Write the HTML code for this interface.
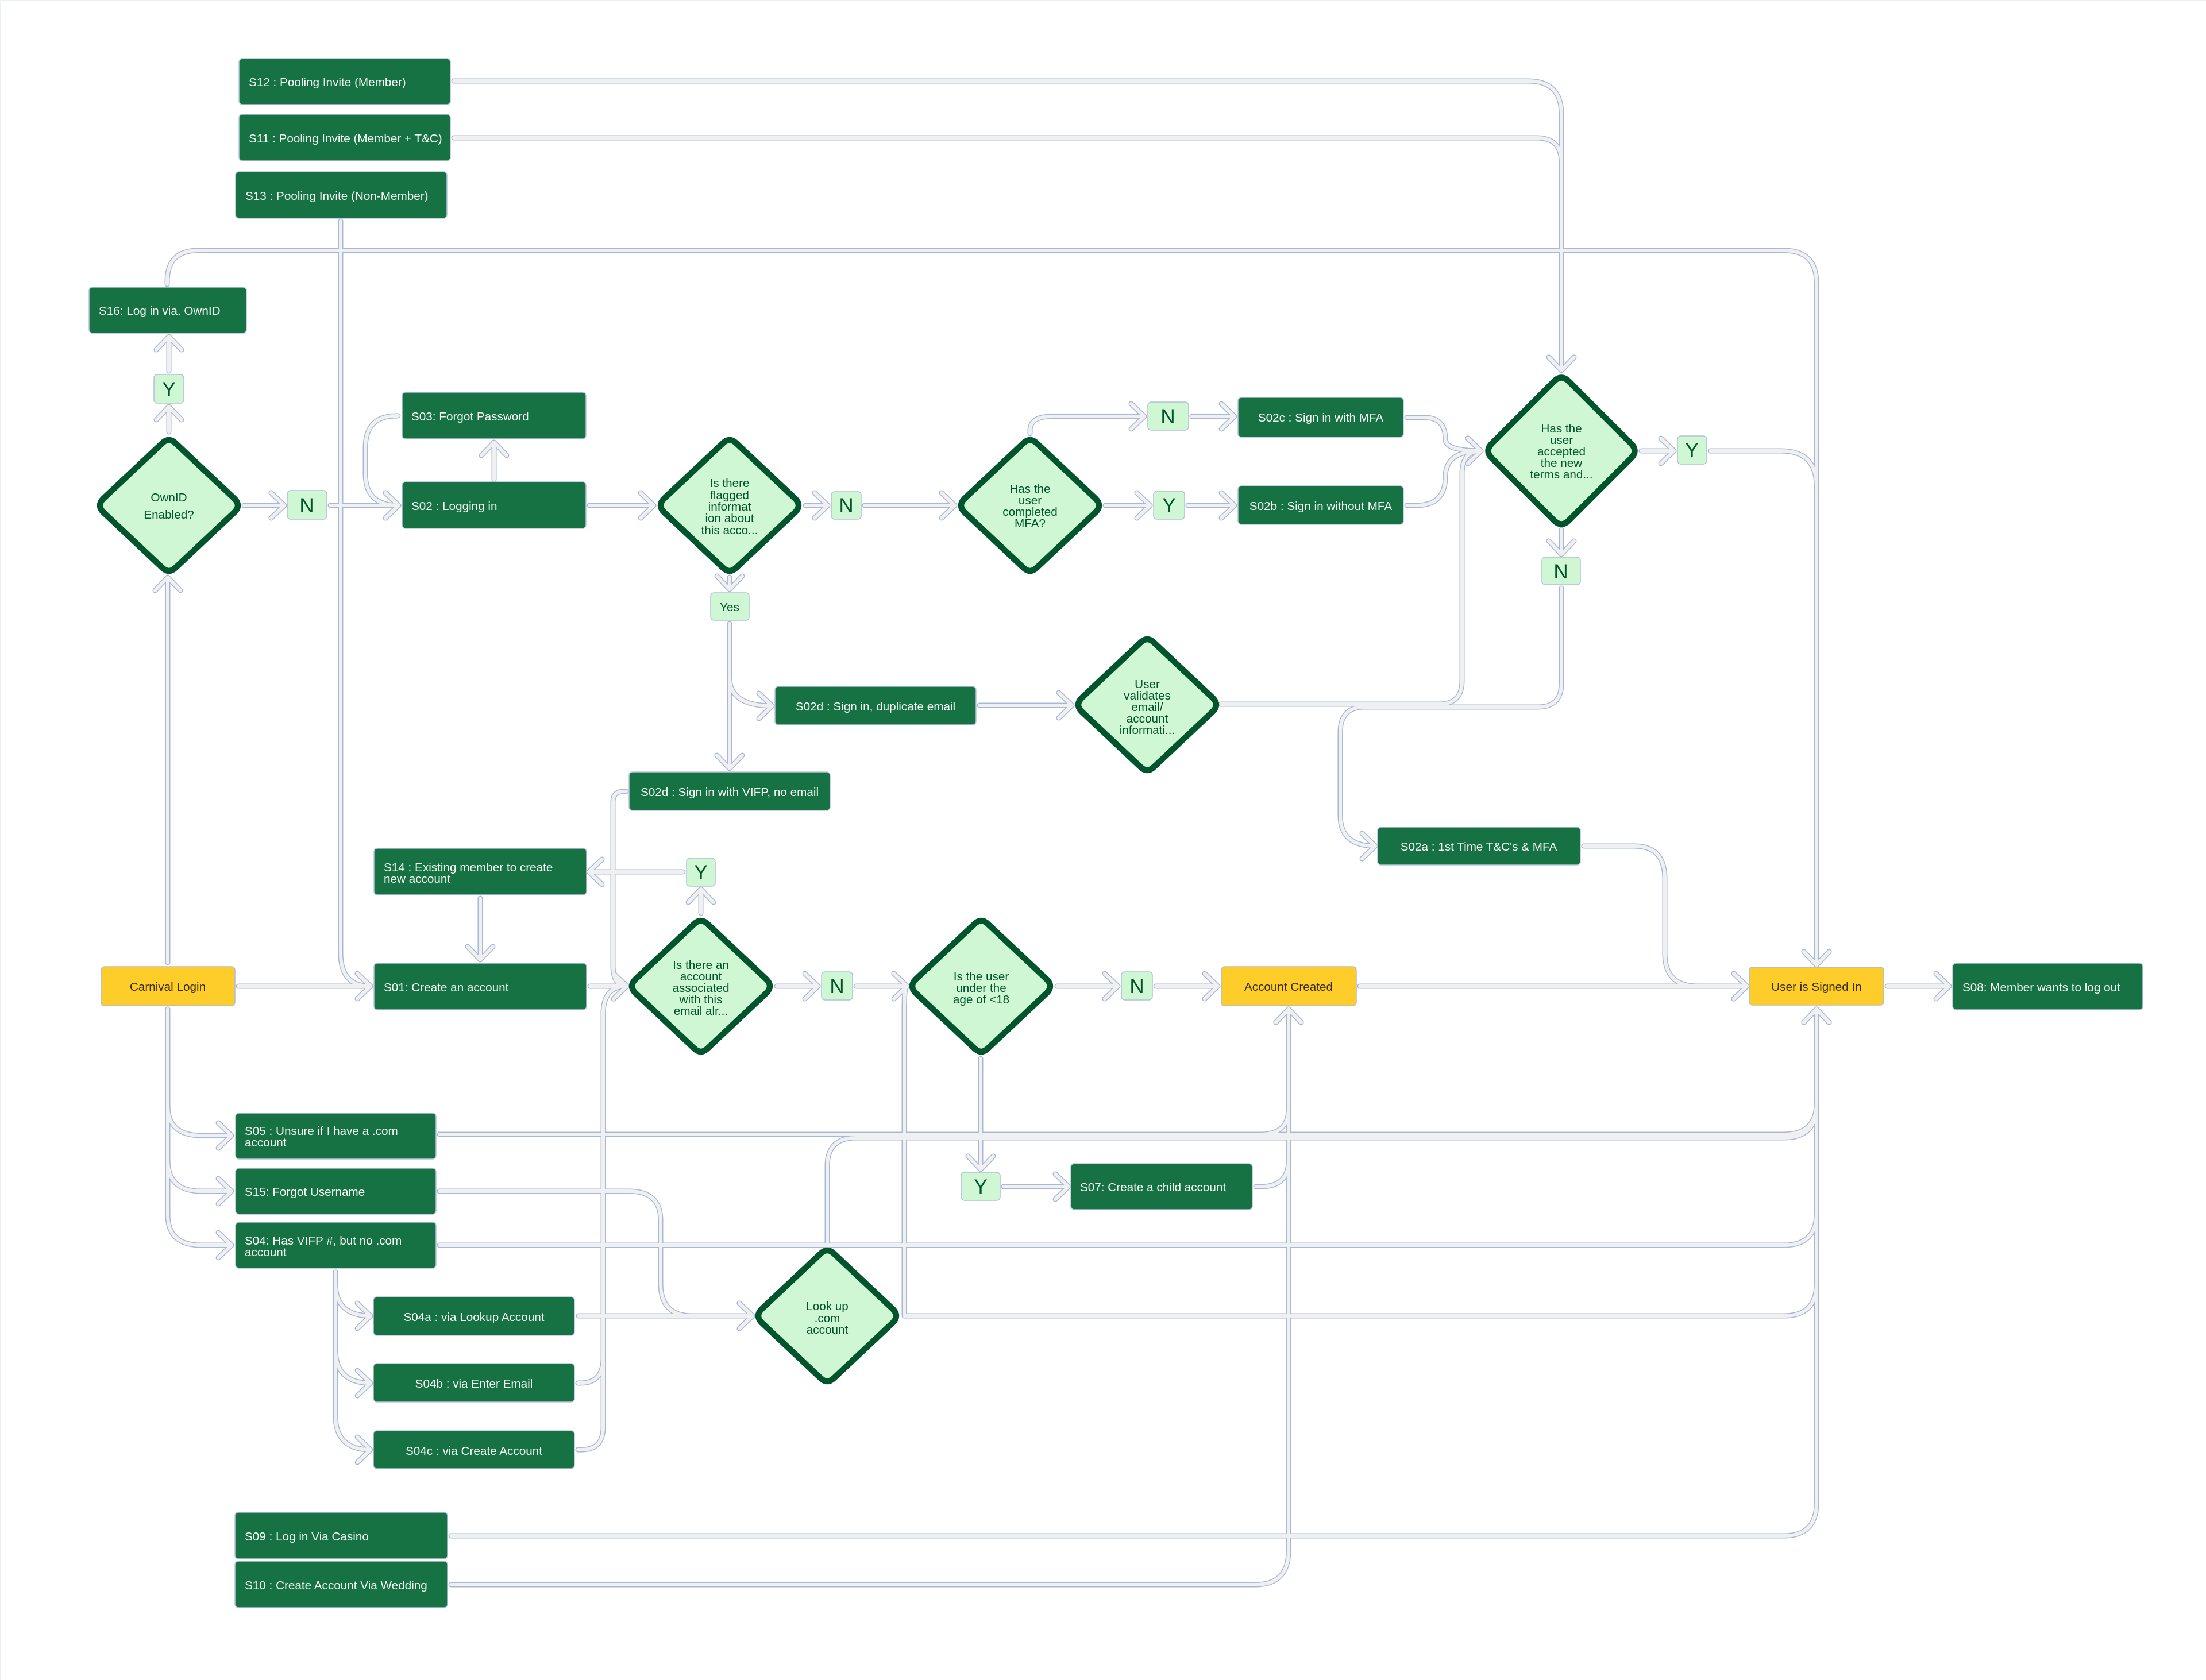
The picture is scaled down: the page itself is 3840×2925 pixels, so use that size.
<!DOCTYPE html>
<html lang="en">
<head>
<meta charset="utf-8">
<title>Login flow diagram</title>
<style>
html,body{margin:0;padding:0;background:#fff;}
svg{display:block;}
text{font-family:"Liberation Sans",sans-serif;font-size:20.7px;}
.w{fill:#f4fbf6;}
.c{text-anchor:middle;}
.g{fill:#02542D;text-anchor:middle;}
.y{fill:#3a2d05;text-anchor:middle;}
.l{fill:#02542D;text-anchor:middle;font-size:35px;}
.b rect{fill:#167242;stroke:#b8c5de;stroke-width:1.5;}
.ye rect{fill:#FFCD29;stroke:#aebcd8;stroke-width:1.5;}
.la rect{fill:#CFF7D3;stroke:#b3c0da;stroke-width:1.5;}
.d use{fill:#CFF7D3;stroke:#02542D;stroke-width:10.5;}
#cons{fill:none;stroke-linecap:round;stroke-linejoin:round;}
</style>
</head>
<body>
<svg xmlns="http://www.w3.org/2000/svg" width="3840" height="2925" viewBox="0 0 3840 2925">
<defs>
<marker id="mo" markerUnits="userSpaceOnUse" markerWidth="70" markerHeight="70" refX="50" refY="35" orient="auto" overflow="visible">
<path d="M27 13 L50 35 L27 57" fill="none" stroke="#a9b8d6" stroke-width="9" stroke-linecap="round" stroke-linejoin="round"/>
</marker>
<marker id="mi" markerUnits="userSpaceOnUse" markerWidth="70" markerHeight="70" refX="50" refY="35" orient="auto" overflow="visible">
<path d="M27 13 L50 35 L27 57" fill="none" stroke="#f0f0f0" stroke-width="6" stroke-linecap="round" stroke-linejoin="round"/>
</marker>
<path id="dm" d="M-114 -12 L-12 -108 Q0 -120 12 -108 L114 -12 Q126 0 114 12 L12 108 Q0 120 -12 108 L-114 12 Q-126 0 -114 -12 Z"/>
<path id="dl" d="M-121 -13 L-13 -121 Q0 -134 13 -121 L121 -13 Q134 0 121 13 L13 121 Q0 134 -13 121 L-121 13 Q-134 0 -121 -13 Z"/>
<g id="ar">
<path d="M790 141 H2660 Q2718 141 2718 199 V645"/>
<path d="M790 240 H2675 Q2718 240 2718 283 V645"/>
<path d="M593 385 V1660 Q593 1717 645 1717"/>
<path d="M291 495 V490 Q291 436 345 436 H3105 Q3162 436 3162 493 V1680"/>
<path d="M294 752 V708"/>
<path d="M294 646 V586"/>
<path d="M425 880 H495"/>
<path d="M575 880 H694"/>
<path d="M860 835 V770"/>
<path d="M693 724 H690 Q636 724 636 780 V825 Q636 880 694 880"/>
<path d="M1026 880 H1138"/>
<path d="M1402 880 H1441"/>
<path d="M1505 880 H1662"/>
<path d="M1270 1005 V1026"/>
<path d="M1270 1086 V1338"/>
<path d="M1270 1086 V1180 Q1270 1229 1344 1229"/>
<path d="M1705 1228 H1866"/>
<path d="M1793 755 V750 Q1793 725 1830 725 H1992"/>
<path d="M2075 725 H2149"/>
<path d="M1924 880 H2002"/>
<path d="M2068 880 H2149"/>
<path d="M2449 727 H2480 Q2516 727 2516 765 Q2516 785 2578 785"/>
<path d="M2449 880 H2465 Q2516 880 2516 830 Q2516 785 2578 785"/>
<path d="M2125 1226 H2505 Q2545 1226 2545 1185 V825 Q2545 785 2578 785"/>
<path d="M2857 785 H2914"/>
<path d="M2977 785 H3100 Q3162 785 3162 847 V1680"/>
<path d="M2718 922 V965"/>
<path d="M2718 1024 V1190 Q2718 1231 2677 1231 H2375 Q2333 1231 2333 1275 V1420 Q2333 1473 2394 1473"/>
<path d="M2757 1473 H2845 Q2898 1473 2898 1530 V1660 Q2898 1717 2955 1717 H3041"/>
<path d="M1090 1378 H1085 Q1067 1378 1067 1396 V1680 Q1067 1717 1091 1717"/>
<path d="M1220 1590 V1548"/>
<path d="M1189 1518 H1025"/>
<path d="M836 1564 V1671"/>
<path d="M1027 1717 H1091"/>
<path d="M415 1717 H645"/>
<path d="M292 1676 V1005"/>
<path d="M292 1757 V1925 Q292 1977 350 1977 H403"/>
<path d="M292 1757 V2020 Q292 2074 350 2074 H403"/>
<path d="M292 1757 V2115 Q292 2168 350 2168 H403"/>
<path d="M1352 1717 H1424"/>
<path d="M1490 1717 H1579"/>
<path d="M1840 1717 H1946"/>
<path d="M2012 1717 H2120"/>
<path d="M1707 1843 V2036"/>
<path d="M1747 2066 H1860"/>
<path d="M2186 2066 H2195 Q2243 2066 2243 2020 V1757"/>
<path d="M2367 1717 H3041"/>
<path d="M3285 1717 H3393"/>
<path d="M765 1975 H2195 Q2243 1975 2243 1930 V1757"/>
<path d="M765 1975 H3105 Q3162 1975 3162 1920 V1757"/>
<path d="M765 2074 H1095 Q1150 2074 1150 2125 V2235 Q1150 2291 1205 2291 H1310"/>
<path d="M765 2168 H3105 Q3162 2168 3162 2112 V1757"/>
<path d="M584 2215 V2235 Q584 2291 645 2291"/>
<path d="M584 2215 V2350 Q584 2408 645 2408"/>
<path d="M584 2215 V2465 Q584 2524 645 2524"/>
<path d="M1007 2291 H1310"/>
<path d="M1006 2408 H1010 Q1050 2408 1050 2365 V1765 Q1050 1717 1091 1717"/>
<path d="M1006 2524 H1012 Q1050 2524 1050 2485 V1765 Q1050 1717 1091 1717"/>
<path d="M1574 2291 V1760 Q1574 1717 1579 1717"/>
<path d="M1574 2291 H3105 Q3162 2291 3162 2235 V1757"/>
<path d="M1440 2165 V2030 Q1440 1981 1490 1981 H3105 Q3162 1981 3162 1925 V1757"/>
<path d="M785 2674 H3105 Q3162 2674 3162 2617 V1757"/>
<path d="M785 2759 H2185 Q2243 2759 2243 2700 V1757"/>
</g>
</defs>
<rect x="0" y="0" width="3840" height="2925" fill="#fff"/>
<path d="M1 2925 V1 H3840" fill="none" stroke="#e4eaf4" stroke-width="1.5"/>
<g id="cons">
<use href="#ar" stroke="#a9b8d6" stroke-width="9" marker-end="url(#mo)"/>
<use href="#ar" stroke="#f0f0f0" stroke-width="6" marker-end="url(#mi)"/>
</g>
<g class="d">
<use href="#dm" transform="translate(294 880)"/>
<use href="#dm" transform="translate(1270 880)"/>
<use href="#dm" transform="translate(1793 880)"/>
<use href="#dm" transform="translate(1997 1227)"/>
<use href="#dm" transform="translate(1220 1717)"/>
<use href="#dm" transform="translate(1708 1717)"/>
<use href="#dm" transform="translate(1440 2291)"/>
<use href="#dl" transform="translate(2718 785)"/>
</g>
<g class="b">
<rect x="416" y="102" width="368" height="80" rx="6"/>
<rect x="416" y="199" width="368" height="81" rx="6"/>
<rect x="410" y="299" width="368" height="81" rx="6"/>
<rect x="155" y="500" width="274" height="80" rx="6"/>
<rect x="700" y="683" width="320" height="81" rx="6"/>
<rect x="700" y="839" width="320" height="81" rx="6"/>
<rect x="2155" y="692" width="288" height="69" rx="6"/>
<rect x="2155" y="846" width="288" height="67" rx="6"/>
<rect x="1349" y="1195" width="350" height="67" rx="6"/>
<rect x="1095" y="1344" width="350" height="67" rx="6"/>
<rect x="651" y="1477" width="370" height="81" rx="6"/>
<rect x="651" y="1677" width="370" height="81" rx="6"/>
<rect x="2398" y="1440" width="353" height="66" rx="6"/>
<rect x="3399" y="1677" width="331" height="81" rx="6"/>
<rect x="410" y="1938" width="349" height="80" rx="6"/>
<rect x="410" y="2034" width="349" height="80" rx="6"/>
<rect x="410" y="2128" width="349" height="80" rx="6"/>
<rect x="1864" y="2026" width="316" height="80" rx="6"/>
<rect x="650" y="2258" width="350" height="67" rx="6"/>
<rect x="650" y="2374" width="350" height="67" rx="6"/>
<rect x="650" y="2491" width="350" height="66" rx="6"/>
<rect x="409" y="2633" width="370" height="81" rx="6"/>
<rect x="409" y="2718" width="370" height="81" rx="6"/>
</g>
<g class="ye">
<rect x="176" y="1683" width="233" height="68" rx="6"/>
<rect x="2126" y="1683" width="235" height="68" rx="6"/>
<rect x="3045" y="1684" width="234" height="66" rx="6"/>
</g>
<g class="la">
<rect x="268" y="652" width="52" height="50" rx="6"/>
<rect x="500" y="854" width="69" height="50" rx="6"/>
<rect x="1447" y="856" width="52" height="48" rx="6"/>
<rect x="1998" y="700" width="71" height="49" rx="6"/>
<rect x="2008" y="855" width="54" height="49" rx="6"/>
<rect x="1237" y="1032" width="67" height="48" rx="6"/>
<rect x="2920" y="759" width="51" height="49" rx="6"/>
<rect x="2684" y="970" width="67" height="48" rx="6"/>
<rect x="1195" y="1494" width="50" height="49" rx="6"/>
<rect x="1430" y="1692" width="54" height="49" rx="6"/>
<rect x="1952" y="1692" width="54" height="49" rx="6"/>
<rect x="1673" y="2041" width="68" height="49" rx="6"/>
</g>
<g class="w">
<text x="433" y="150">S12 : Pooling Invite (Member)</text>
<text x="433" y="248">S11 : Pooling Invite (Member + T&amp;C)</text>
<text x="427" y="348">S13 : Pooling Invite (Non-Member)</text>
<text x="172" y="548">S16: Log in via. OwnID</text>
<text x="716" y="732">S03: Forgot Password</text>
<text x="716" y="888">S02 : Logging in</text>
<text class="c" x="2299" y="734">S02c : Sign in with MFA</text>
<text class="c" x="2299" y="888">S02b : Sign in without MFA</text>
<text class="c" x="1524" y="1237">S02d : Sign in, duplicate email</text>
<text class="c" x="1270" y="1386">S02d : Sign in with VIFP, no email</text>
<text x="668" y="1517">S14 : Existing member to create</text>
<text x="668" y="1537">new account</text>
<text x="668" y="1726">S01: Create an account</text>
<text class="c" x="2574" y="1481">S02a : 1st Time T&amp;C's &amp; MFA</text>
<text x="3416" y="1726">S08: Member wants to log out</text>
<text x="426" y="1976">S05 : Unsure if I have a .com</text>
<text x="426" y="1996">account</text>
<text x="426" y="2082">S15: Forgot Username</text>
<text x="426" y="2167">S04: Has VIFP #, but no .com</text>
<text x="426" y="2187">account</text>
<text x="1880" y="2074">S07: Create a child account</text>
<text class="c" x="825" y="2300">S04a : via Lookup Account</text>
<text class="c" x="825" y="2416">S04b : via Enter Email</text>
<text class="c" x="825" y="2533">S04c : via Create Account</text>
<text x="426" y="2682">S09 : Log in Via Casino</text>
<text x="426" y="2767">S10 : Create Account Via Wedding</text>
</g>
<g>
<text class="y" x="292" y="1725">Carnival Login</text>
<text class="y" x="2243" y="1725">Account Created</text>
<text class="y" x="3162" y="1725">User is Signed In</text>
</g>
<g>
<text class="l" x="294" y="690">Y</text>
<text class="l" x="534" y="892">N</text>
<text class="l" x="1473" y="892">N</text>
<text class="l" x="2033" y="737">N</text>
<text class="l" x="2035" y="892">Y</text>
<text class="l" x="2945" y="796">Y</text>
<text class="l" x="2717" y="1007">N</text>
<text class="l" x="1220" y="1531">Y</text>
<text class="l" x="1457" y="1729">N</text>
<text class="l" x="1979" y="1729">N</text>
<text class="l" x="1707" y="2078">Y</text>
<text class="g" x="1270" y="1064">Yes</text>
</g>
<g>
<text class="g" x="294" y="873">OwnID</text>
<text class="g" x="294" y="903">Enabled?</text>
<text class="g" x="1270" y="848">Is there</text>
<text class="g" x="1270" y="869">flagged</text>
<text class="g" x="1270" y="889">informat</text>
<text class="g" x="1270" y="909">ion about</text>
<text class="g" x="1270" y="930">this acco...</text>
<text class="g" x="1793" y="858">Has the</text>
<text class="g" x="1793" y="878">user</text>
<text class="g" x="1793" y="898">completed</text>
<text class="g" x="1793" y="918">MFA?</text>
<text class="g" x="1997" y="1198">User</text>
<text class="g" x="1997" y="1218">validates</text>
<text class="g" x="1997" y="1238">email/</text>
<text class="g" x="1997" y="1258">account</text>
<text class="g" x="1997" y="1278">informati...</text>
<text class="g" x="2718" y="753">Has the</text>
<text class="g" x="2718" y="773">user</text>
<text class="g" x="2718" y="793">accepted</text>
<text class="g" x="2718" y="813">the new</text>
<text class="g" x="2718" y="833">terms and...</text>
<text class="g" x="1220" y="1687">Is there an</text>
<text class="g" x="1220" y="1707">account</text>
<text class="g" x="1220" y="1727">associated</text>
<text class="g" x="1220" y="1747">with this</text>
<text class="g" x="1220" y="1767">email alr...</text>
<text class="g" x="1708" y="1707">Is the user</text>
<text class="g" x="1708" y="1727">under the</text>
<text class="g" x="1708" y="1747">age of &lt;18</text>
<text class="g" x="1440" y="2281">Look up</text>
<text class="g" x="1440" y="2302">.com</text>
<text class="g" x="1440" y="2322">account</text>
</g>
</svg>
</body>
</html>
